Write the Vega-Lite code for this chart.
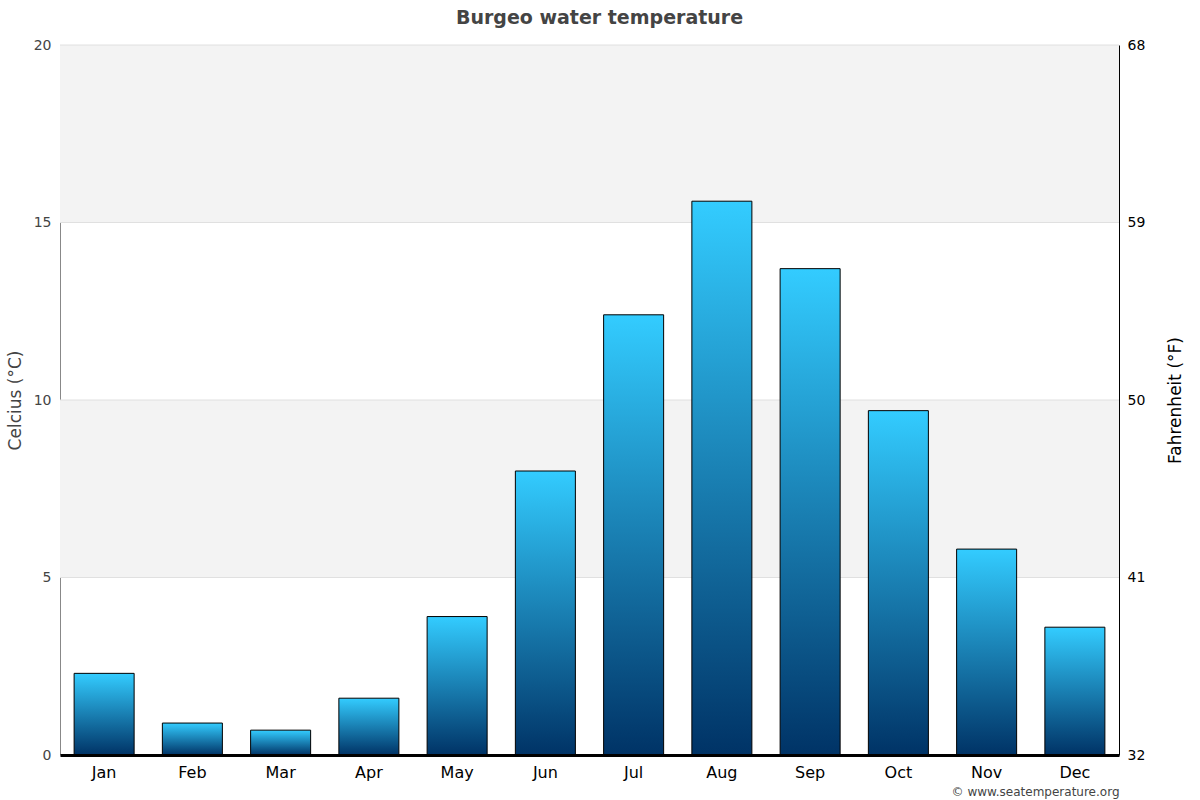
{
  "$schema": "https://vega.github.io/schema/vega-lite/v6.json",
  "autosize": "none",
  "width": 1059,
  "height": 710,
  "padding": {"left": 60, "top": 45, "right": 81, "bottom": 45},
  "background": "white",
  "config": {
    "font": "DejaVu Sans",
    "view": {"stroke": null}
  },
  "title": {
    "text": "Burgeo water temperature",
    "fontSize": 19,
    "fontWeight": "bold",
    "color": "#444444",
    "anchor": "middle",
    "dx": 10,
    "offset": 10
  },
  "datasets": {
    "months": [
      {"month": "Jan", "celsius": 2.3},
      {"month": "Feb", "celsius": 0.9},
      {"month": "Mar", "celsius": 0.7},
      {"month": "Apr", "celsius": 1.6},
      {"month": "May", "celsius": 3.9},
      {"month": "Jun", "celsius": 8.0},
      {"month": "Jul", "celsius": 12.4},
      {"month": "Aug", "celsius": 15.6},
      {"month": "Sep", "celsius": 13.7},
      {"month": "Oct", "celsius": 9.7},
      {"month": "Nov", "celsius": 5.8},
      {"month": "Dec", "celsius": 3.6}
    ],
    "bands": [
      {"lo": 15, "hi": 20},
      {"lo": 5, "hi": 10}
    ],
    "grid": [
      {"g": 5}, {"g": 10}, {"g": 15}, {"g": 20}
    ],
    "fahr": [
      {"f": 32}, {"f": 41}, {"f": 50}, {"f": 59}, {"f": 68}
    ]
  },
  "layer": [
    {
      "data": {"name": "bands"},
      "mark": {"type": "rect", "fill": "#f3f3f3"},
      "encoding": {
        "y": {"field": "lo", "type": "quantitative", "scale": {"domain": [0, 20], "nice": false}, "axis": null},
        "y2": {"field": "hi"}
      }
    },
    {
      "data": {"name": "grid"},
      "mark": {"type": "rule", "stroke": "#e0e0e0", "strokeWidth": 1},
      "encoding": {
        "y": {"field": "g", "type": "quantitative", "scale": {"domain": [0, 20], "nice": false}, "axis": null}
      }
    },
    {
      "data": {"name": "months"},
      "mark": {
        "type": "bar",
        "stroke": "black",
        "strokeWidth": 1,
        "fill": {
          "gradient": "linear",
          "x1": 0, "y1": 0, "x2": 0, "y2": 1,
          "stops": [
            {"offset": 0, "color": "#33ccff"},
            {"offset": 1, "color": "#003366"}
          ]
        }
      },
      "encoding": {
        "x": {
          "field": "month",
          "type": "nominal",
          "sort": ["Jan", "Feb", "Mar", "Apr", "May", "Jun", "Jul", "Aug", "Sep", "Oct", "Nov", "Dec"],
          "scale": {"paddingInner": 0.32, "paddingOuter": 0.16},
          "axis": {
            "title": "© www.seatemperature.org",
            "titleFontSize": 12,
            "titleFontWeight": "normal",
            "titleColor": "#444444",
            "titleAnchor": "end",
            "titlePadding": 6,
            "labelAngle": 0,
            "labelFontSize": 16,
            "labelColor": "#000000",
            "labelPadding": 9,
            "ticks": false,
            "domainColor": "#000000",
            "domainWidth": 3,
            "zindex": 1
          }
        },
        "y": {
          "field": "celsius",
          "type": "quantitative",
          "scale": {"domain": [0, 20], "nice": false},
          "axis": {
            "title": "Celcius (°C)",
            "titleFontSize": 17,
            "titleFontWeight": "normal",
            "titleColor": "#444444",
            "titlePadding": 9,
            "values": [0, 5, 10, 15, 20],
            "labelFontSize": 14,
            "labelColor": "#444444",
            "labelPadding": 9,
            "ticks": false,
            "grid": false,
            "domainColor": "#888888",
            "domainWidth": 1
          }
        }
      }
    },
    {
      "data": {"name": "fahr"},
      "mark": {"type": "point", "opacity": 0},
      "encoding": {
        "y": {
          "field": "f",
          "type": "quantitative",
          "scale": {"domain": [32, 68], "nice": false},
          "axis": {
            "orient": "right",
            "title": "Fahrenheit (°F)",
            "titleFontSize": 17,
            "titleFontWeight": "normal",
            "titleColor": "#000000",
            "titleAngle": 270,
            "titleBaseline": "bottom",
            "titlePadding": 40,
            "values": [32, 41, 50, 59, 68],
            "labelFontSize": 14,
            "labelColor": "#000000",
            "labelPadding": 8,
            "ticks": false,
            "grid": false,
            "domainColor": "#000000",
            "domainWidth": 1
          }
        }
      }
    }
  ],
  "resolve": {"scale": {"y": "independent"}}
}
